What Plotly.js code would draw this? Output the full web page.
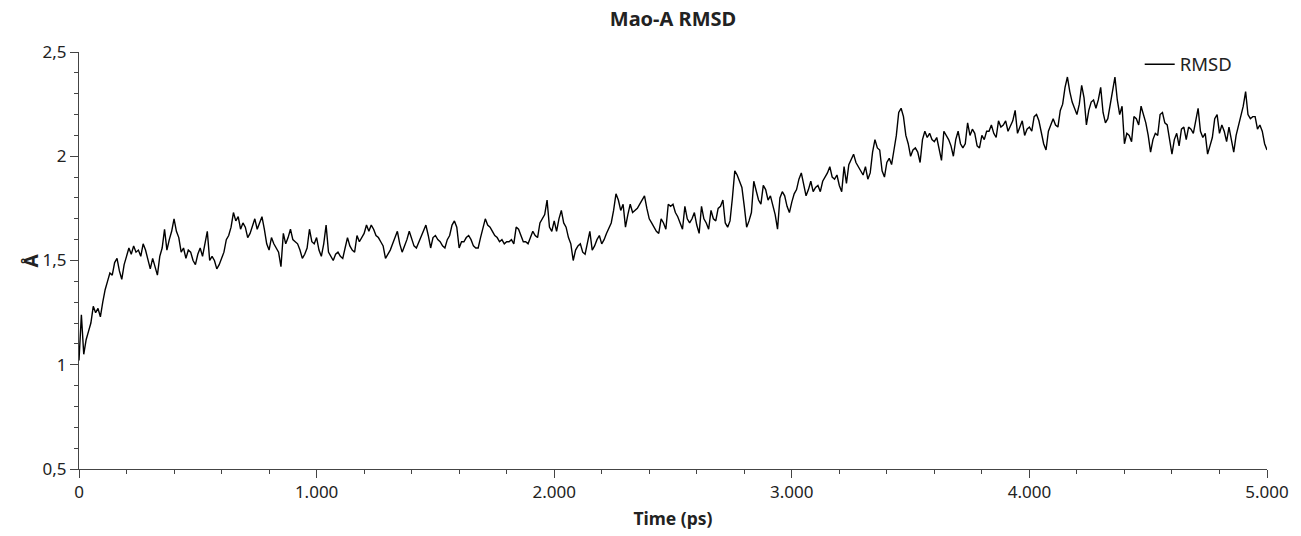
<!DOCTYPE html>
<html><head><meta charset="utf-8">
<script src="https://cdn.plot.ly/plotly-3.0.1.min.js"></script>
<style>html,body{margin:0;padding:0;background:#fff}#chart{width:1301px;height:536px}</style>
</head><body><div id="chart"></div>
<script>
// Sampling of the trajectory (ps)
const timeStart = 0;
const timeStep = 10;
// RMSD values (Å), one every 10 ps
const rmsd = [
1.02,1.24,1.05,1.12,1.16,1.20,1.28,1.25,1.27,1.23,1.30,
1.36,1.40,1.44,1.43,1.49,1.51,1.45,1.41,1.48,1.52,
1.56,1.53,1.57,1.54,1.55,1.52,1.58,1.55,1.50,1.46,
1.51,1.47,1.43,1.52,1.56,1.65,1.55,1.60,1.64,1.70,
1.64,1.61,1.54,1.56,1.51,1.55,1.54,1.50,1.48,1.53,
1.56,1.52,1.58,1.64,1.50,1.52,1.50,1.46,1.48,1.51,
1.54,1.60,1.62,1.66,1.73,1.69,1.71,1.65,1.68,1.66,
1.61,1.63,1.66,1.70,1.65,1.68,1.71,1.65,1.58,1.55,
1.61,1.58,1.56,1.54,1.47,1.63,1.58,1.61,1.65,1.60,
1.59,1.58,1.55,1.51,1.53,1.56,1.65,1.59,1.58,1.61,
1.55,1.52,1.58,1.67,1.54,1.52,1.50,1.53,1.54,1.52,
1.51,1.56,1.61,1.57,1.55,1.54,1.62,1.59,1.61,1.63,
1.67,1.64,1.67,1.65,1.62,1.61,1.59,1.57,1.51,1.53,
1.55,1.58,1.61,1.64,1.58,1.54,1.57,1.60,1.64,1.61,
1.57,1.56,1.59,1.62,1.64,1.67,1.62,1.56,1.61,1.62,
1.60,1.59,1.57,1.56,1.60,1.62,1.67,1.69,1.66,1.56,
1.59,1.59,1.61,1.62,1.60,1.57,1.56,1.56,1.61,1.66,
1.70,1.67,1.66,1.64,1.62,1.61,1.59,1.60,1.58,1.59,
1.59,1.60,1.58,1.66,1.65,1.62,1.59,1.59,1.58,1.61,
1.64,1.62,1.61,1.68,1.70,1.72,1.79,1.66,1.64,1.69,
1.64,1.70,1.74,1.68,1.66,1.61,1.58,1.50,1.55,1.57,
1.58,1.54,1.53,1.58,1.64,1.55,1.57,1.60,1.62,1.58,
1.60,1.63,1.66,1.68,1.74,1.82,1.79,1.74,1.77,1.66,
1.72,1.77,1.73,1.74,1.75,1.77,1.79,1.81,1.75,1.70,
1.68,1.66,1.64,1.63,1.70,1.68,1.65,1.77,1.76,1.77,
1.73,1.71,1.68,1.65,1.76,1.70,1.68,1.70,1.73,1.67,
1.63,1.76,1.70,1.68,1.65,1.74,1.70,1.69,1.75,1.76,
1.79,1.68,1.66,1.69,1.80,1.93,1.91,1.88,1.85,1.76,
1.66,1.69,1.73,1.88,1.83,1.79,1.77,1.86,1.84,1.79,
1.81,1.76,1.72,1.65,1.80,1.83,1.81,1.76,1.73,1.78,
1.82,1.84,1.89,1.92,1.86,1.81,1.84,1.88,1.83,1.85,
1.86,1.83,1.88,1.90,1.92,1.95,1.90,1.89,1.91,1.86,
1.83,1.95,1.87,1.96,1.99,2.01,1.97,1.95,1.93,1.91,
1.95,1.89,1.92,2.02,2.08,2.04,2.03,1.93,1.90,1.97,
1.99,1.96,2.03,2.10,2.21,2.23,2.19,2.10,2.06,2.00,
2.03,2.04,2.02,1.97,2.08,2.12,2.09,2.11,2.08,2.07,
2.09,2.03,1.98,2.12,2.10,2.08,2.05,2.00,2.08,2.12,
2.06,2.04,2.06,2.16,2.10,2.13,2.11,2.05,2.04,2.10,
2.08,2.12,2.12,2.15,2.11,2.09,2.17,2.14,2.15,2.17,
2.12,2.15,2.17,2.22,2.11,2.14,2.17,2.10,2.13,2.14,
2.12,2.19,2.20,2.17,2.11,2.06,2.03,2.12,2.15,2.18,
2.15,2.14,2.22,2.25,2.33,2.38,2.31,2.26,2.23,2.20,
2.25,2.34,2.28,2.15,2.22,2.26,2.27,2.23,2.27,2.33,
2.21,2.16,2.18,2.25,2.33,2.38,2.27,2.20,2.24,2.06,
2.11,2.10,2.07,2.19,2.18,2.15,2.24,2.20,2.16,2.10,
2.02,2.08,2.11,2.10,2.20,2.21,2.16,2.15,2.08,2.01,
2.08,2.11,2.05,2.13,2.14,2.08,2.14,2.13,2.11,2.17,
2.23,2.12,2.09,2.11,2.01,2.05,2.09,2.18,2.20,2.11,
2.15,2.12,2.07,2.14,2.08,2.02,2.10,2.15,2.19,2.24,
2.31,2.20,2.18,2.19,2.19,2.13,2.15,2.12,2.06,2.03
];
const seriesName = "RMSD";
const chartTitle = "Mao-A RMSD";
const xTitle = "Time (ps)";
const yTitle = "Å";
const xTickVals = [0, 1000, 2000, 3000, 4000, 5000];
const xTickText = ["0", "1.000", "2.000", "3.000", "4.000", "5.000"];
const yTickVals = [0.5, 1, 1.5, 2, 2.5];
const yTickText = ["0,5", "1", "1,5", "2", "2,5"];

const time = rmsd.map((_, i) => timeStart + i * timeStep);

const FONT = '"Noto Sans", "DejaVu Sans", sans-serif';
const AX = '#444';

const trace = {
  x: time, y: rmsd, type: 'scatter', mode: 'lines', name: seriesName,
  line: {color: '#000', width: 1.4}, showlegend: true
};

const layout = {
  width: 1301, height: 536,
  margin: {l: 79, r: 34, t: 52, b: 67, pad: 0},
  paper_bgcolor: '#fff', plot_bgcolor: '#fff',
  font: {family: FONT, size: 17, color: '#222'},
  title: {text: '<b>' + chartTitle + '</b>', x: 0.5, xref: 'paper', y: 0.965, yref: 'container', yanchor: 'middle',
          font: {family: FONT, size: 20, color: '#222'}},
  showlegend: true,
  legend: {x: 0.9745, xanchor: 'right', y: 1.015, yanchor: 'top', bgcolor: 'rgba(0,0,0,0)',
           font: {family: FONT, size: 18.5, color: '#222'}},
  xaxis: {
    range: [0, 5000], showgrid: false, zeroline: false,
    showline: true, linecolor: AX, linewidth: 1,
    ticks: 'outside', ticklen: 8, tickcolor: AX, tickwidth: 1,
    tickmode: 'array', tickvals: xTickVals, ticktext: xTickText,
    tickfont: {family: FONT, size: 17, color: '#222'},
    minor: {tickmode: 'linear', tick0: 0, dtick: 200, ticks: 'outside', ticklen: 4, tickcolor: AX, showgrid: false},
    title: {text: '<b>' + xTitle + '</b>', font: {family: FONT, size: 17.5, color: '#222'}, standoff: 10}
  },
  yaxis: {
    range: [0.5, 2.5], showgrid: false, zeroline: false,
    showline: true, linecolor: AX, linewidth: 1,
    ticks: 'outside', ticklen: 8, tickcolor: AX, tickwidth: 1,
    tickmode: 'array', tickvals: yTickVals, ticktext: yTickText,
    tickfont: {family: FONT, size: 17, color: '#222'},
    minor: {tickmode: 'linear', tick0: 0.5, dtick: 0.1, ticks: 'outside', ticklen: 4, tickcolor: AX, showgrid: false}
  },
  annotations: [{
    text: '<b>' + yTitle + '</b>', xref: 'paper', yref: 'paper', x: -0.0412, y: 0.5,
    xanchor: 'center', yanchor: 'middle', textangle: -90, showarrow: false,
    font: {family: FONT, size: 19, color: '#222'}
  }]
};

Plotly.newPlot('chart', [trace], layout, {displayModeBar: false, staticPlot: true});
</script>
</body></html>
